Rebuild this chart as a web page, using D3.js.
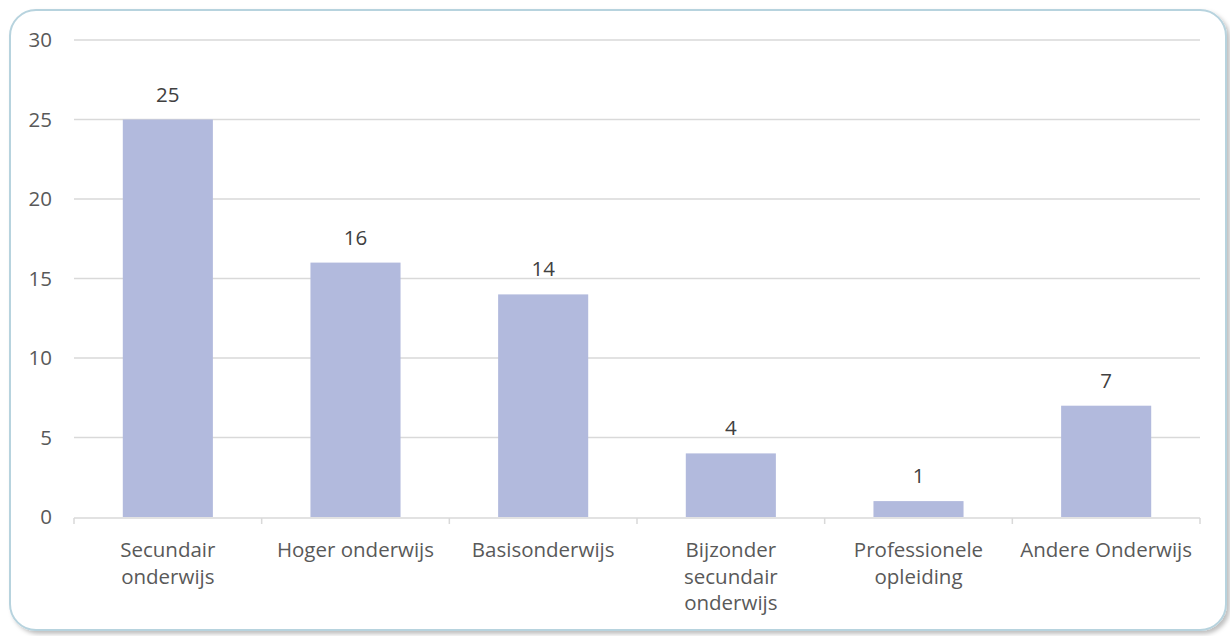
<!DOCTYPE html>
<html><head><meta charset="utf-8">
<script src="https://cdn.jsdelivr.net/npm/d3@7"></script>
<style>body{margin:0;background:#fff}svg{display:block}</style>
</head><body><svg id="c" width="1230" height="636"></svg>
<script>
const categories = [["Secundair","onderwijs"],["Hoger onderwijs"],["Basisonderwijs"],["Bijzonder","secundair","onderwijs"],["Professionele","opleiding"],["Andere Onderwijs"]];
const values = [25,16,14,4,1,7];
const yTicks = [0,5,10,15,20,25,30];

(function(){
const svg = d3.select("#c");
const font = "'Open Sans', sans-serif";
const fs = 20.5;
const defs = svg.append("defs");
const f = defs.append("filter").attr("id","sh").attr("x","-5%").attr("y","-5%").attr("width","110%").attr("height","110%");
f.append("feDropShadow").attr("dx",3).attr("dy",3).attr("stdDeviation",2).attr("flood-color","#000").attr("flood-opacity",0.25);
svg.append("rect").attr("x",10).attr("y",10).attr("width",1216).attr("height",620).attr("rx",26)
  .attr("fill","#fff").attr("stroke","#b7d3de").attr("stroke-width",2).attr("filter","url(#sh)");

const mL=74,mR=1200,mT=40,mB=517;
const x = d3.scaleBand().domain(d3.range(categories.length)).range([mL,mR]).paddingInner(0.52).paddingOuter(0.26);
const y = d3.scaleLinear().domain([0,30]).range([mB,mT]);

svg.append("g").selectAll("line").data(yTicks.filter(d=>d>0)).join("line")
  .attr("x1",mL).attr("x2",mR).attr("y1",d=>y(d)).attr("y2",d=>y(d))
  .attr("stroke","#d9d9d9").attr("stroke-width",1.5);
svg.append("g").selectAll("text").data(yTicks).join("text")
  .attr("x",52).attr("y",d=>y(d)).attr("dy","0.35em").attr("text-anchor","end")
  .attr("font-family",font).attr("font-size",fs).attr("fill","#595959").text(d=>d);
svg.append("g").selectAll("rect").data(values).join("rect")
  .attr("x",(d,i)=>x(i)).attr("width",x.bandwidth()).attr("y",d=>y(d)).attr("height",d=>y(0)-y(d))
  .attr("fill","#b2badd");
svg.append("line").attr("x1",mL).attr("x2",mR).attr("y1",mB+1).attr("y2",mB+1).attr("stroke","#d9d9d9").attr("stroke-width",1.5);
const step = (mR-mL)/categories.length;
svg.append("g").selectAll("line").data(d3.range(categories.length+1)).join("line")
  .attr("x1",i=>mL+i*step).attr("x2",i=>mL+i*step).attr("y1",mB+1).attr("y2",mB+7)
  .attr("stroke","#d9d9d9").attr("stroke-width",1.5);
svg.append("g").selectAll("text").data(values).join("text")
  .attr("x",(d,i)=>x(i)+x.bandwidth()/2).attr("y",d=>y(d)-18).attr("text-anchor","middle")
  .attr("font-family",font).attr("font-size",fs).attr("fill","#404040").text(d=>d);
const cg = svg.append("g").selectAll("text").data(categories).join("text")
  .attr("x",(d,i)=>x(i)+x.bandwidth()/2).attr("y",557).attr("text-anchor","middle")
  .attr("font-family",font).attr("font-size",fs).attr("fill","#595959");
cg.selectAll("tspan").data(d=>d).join("tspan")
  .attr("x",function(){return this.parentNode.getAttribute("x");})
  .attr("dy",(d,i)=>i===0?0:26.5).text(d=>d);
})();
</script></body></html>
